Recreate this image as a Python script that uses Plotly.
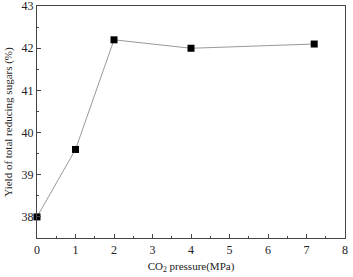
import plotly.graph_objects as go

pressure = [0, 1, 2, 4, 7.2]
yield_pct = [38.0, 39.6, 42.2, 42.0, 42.1]
y_ticks = [38, 39, 40, 41, 42, 43]

fig = go.Figure()
fig.add_trace(go.Scatter(
    x=pressure, y=yield_pct, mode="lines+markers",
    line=dict(color="#999999", width=1),
    marker=dict(symbol="square", size=7, color="black"),
    cliponaxis=False,
))
font = dict(family="Liberation Serif, Times New Roman, serif", size=12, color="#222")
fig.update_layout(
    width=353, height=277,
    margin=dict(l=37, r=5, t=6, b=39),
    paper_bgcolor="white", plot_bgcolor="white",
    showlegend=False, font=font,
)
fig.update_xaxes(
    range=[0, 8], dtick=1, showgrid=False, zeroline=False,
    showline=True, linecolor="#444", linewidth=1.2, mirror=True,
    ticks="inside", ticklen=4, tickcolor="#444",
    minor=dict(dtick=0.5, ticks="inside", ticklen=2, tickcolor="#444"),
    title=dict(text="CO<sub>2</sub> pressure(MPa)", standoff=6, font=dict(size=11)),
    tickfont=dict(size=12), ticklabeloverflow="allow",
)
fig.update_yaxes(
    range=[37.5, 43.002], tickmode="array", tickvals=y_ticks,
    showgrid=False, zeroline=False, automargin=False,
    showline=True, linecolor="#444", linewidth=1.2, mirror=True,
    ticks="inside", ticklen=4, tickcolor="#444",
    minor=dict(dtick=0.5, ticks="inside", ticklen=2, tickcolor="#444"),
    title=dict(text="Yield of total reducing sugars (%)", standoff=6, font=dict(size=11)),
    tickfont=dict(size=12), ticklabeloverflow="allow",
)
fig.write_html("out.html", config={"displayModeBar": False},
               post_script="document.body.style.margin='0';document.body.style.overflow='hidden';")
